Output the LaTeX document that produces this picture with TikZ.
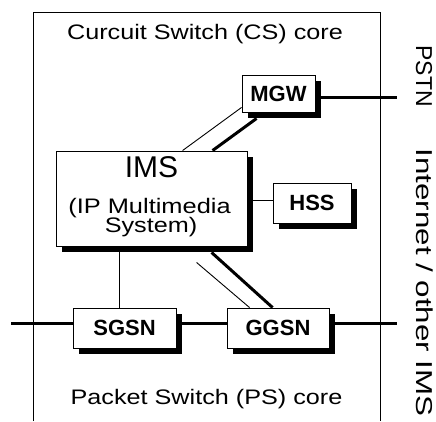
\documentclass[tikz,border=0pt]{standalone}
\usepackage{fontspec}
\setmainfont{Liberation Sans}
\usetikzlibrary{calc,shadows}
\begin{document}
\begin{tikzpicture}[x=1pt,y=-1pt,
  box/.style={draw=black,line width=0.9pt,fill=white,inner sep=0pt,
    drop shadow={shadow xshift=6pt,shadow yshift=-6pt,fill=black,opacity=1}},
  lbl/.style={font=\fontsize{22}{22}\selectfont\bfseries},
  reg/.style={font=\fontsize{21}{21}\selectfont,anchor=base,inner sep=0pt},
  side/.style={font=\fontsize{23}{23}\selectfont,anchor=base,inner sep=0pt,rotate=-90},
  thinln/.style={line width=0.9pt},
  thickln/.style={line width=3pt},
  frame/.style={line width=0.8pt}]
\fill[white] (0,0) rectangle (436,421);
\useasboundingbox (0,0) rectangle (436,421);
% frame
\draw[frame] (33,421) -- (33,12) -- (380,12) -- (380,421);
% boxes
\node[box,minimum width=73pt,minimum height=37pt,lbl] (MGW) at (278.5,93.5) {MGW};
\node[box,minimum width=191pt,minimum height=95pt] (IMS) at (151.5,198.5) {};
\node[box,minimum width=78pt,minimum height=40pt,lbl] (HSS) at (312,203) {HSS};
\node[box,minimum width=103pt,minimum height=40pt,lbl] (SGSN) at (124.5,328) {SGSN};
\node[box,minimum width=102pt,minimum height=40pt,lbl] (GGSN) at (278,328) {GGSN};
% texts
\node[reg] (cs) at (205,39) {\scalebox{1.2}[1]{Curcuit Switch (CS) core}};
\node[reg] (ps) at (206.5,404) {\scalebox{1.2}[1]{Packet Switch (PS) core}};
\node[reg,font=\fontsize{30}{30}\selectfont] (imst) at (151.5,177) {IMS};
\node[reg] (ipm) at (149.5,213) {\scalebox{1.21}[1]{(IP Multimedia}};
\node[reg] (sys) at (151,232) {\scalebox{1.2}[1]{System)}};
\node[side] (pstn) at (416,76) {PSTN};
\node[side] (inet) at (416,282.5) {\scalebox{1.36}[1]{Internet / other IMS}};
% coordinates
\coordinate (hy) at (0,200);
\coordinate (pstnEnd) at (397,97);
\coordinate (psL) at (11,323);
\coordinate (psR) at (397,323);
\coordinate (vx) at (119,0);
% connectors
\draw[thinln] (IMS.east |- hy) -- (HSS.west |- hy);
\draw[thickln] (MGW.east |- pstnEnd) -- (pstnEnd);
\draw[thickln] (psL) -- (psL -| SGSN.west);
\draw[thickln] (SGSN.east |- psL) -- (GGSN.west |- psL);
\draw[thickln] (GGSN.east |- psR) -- (psR);
\draw[thinln] (IMS.south -| vx) -- (SGSN.north -| vx);
\draw[thinln] ($(IMS.north west)+(127,0)$) -- ($(MGW.south west)+(0,-5)$);
\draw[thickln] ($(IMS.north west)+(157,0)$) -- ($(MGW.south west)+(15,6)$);
\draw[thinln] ($(IMS.south west)+(141,16)$) -- ($(GGSN.north west)+(23,0)$);
\draw[thickln] ($(IMS.south west)+(156,6)$) -- ($(GGSN.north west)+(46,0)$);
\end{tikzpicture}
\end{document}
